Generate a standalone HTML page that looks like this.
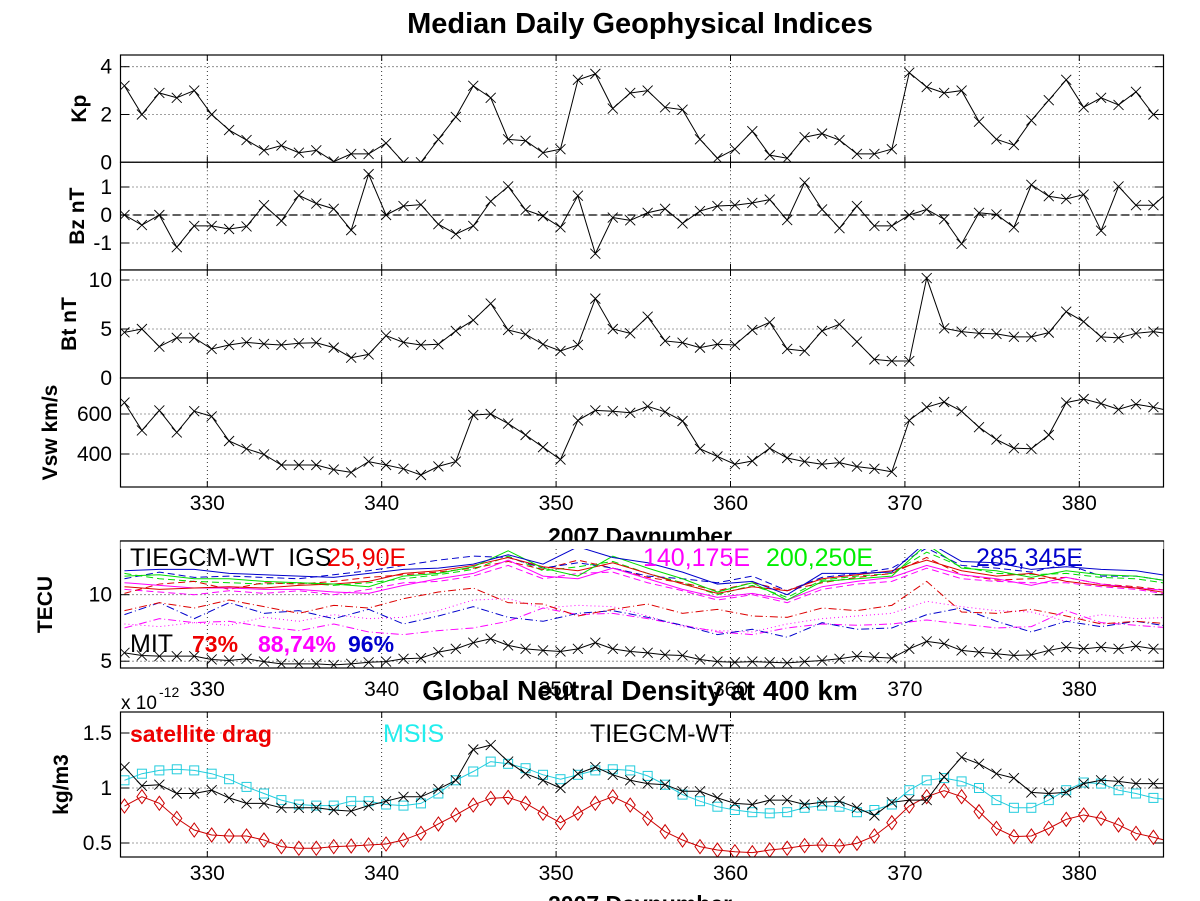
<!DOCTYPE html>
<html><head><meta charset="utf-8"><style>
html,body{margin:0;padding:0;background:#fff;}
svg{display:block;font-family:"Liberation Sans",Arial,sans-serif;}
</style></head><body>
<svg id="chart" width="1200" height="901" viewBox="0 0 1200 901" xmlns="http://www.w3.org/2000/svg">
<rect width="1200" height="901" fill="#fff"/>
</svg>
<script>
// ---- data ----
const kp = [3.2,2.0,2.9,2.7,3.0,2.0,1.35,0.93,0.5,0.7,0.4,0.5,0.03,0.35,0.35,0.8,0,0,0.96,1.9,3.2,2.7,0.96,0.9,0.4,0.55,3.45,3.7,2.25,2.9,3.0,2.3,2.2,0.96,0.17,0.55,1.3,0.3,0.17,1.05,1.2,0.93,0.35,0.35,0.55,3.75,3.15,2.9,3.0,1.7,0.96,0.72,1.75,2.6,3.45,2.3,2.7,2.4,2.95,2.0,2.0];
const bz = [0,-0.36,0,-1.15,-0.39,-0.39,-0.5,-0.41,0.35,-0.21,0.7,0.41,0.22,-0.54,1.46,0,0.32,0.37,-0.33,-0.68,-0.39,0.49,1.02,0.18,-0.04,-0.44,0.69,-1.38,-0.09,-0.19,0.08,0.22,-0.3,0.14,0.32,0.35,0.43,0.55,-0.18,1.16,0.2,-0.47,0.32,-0.39,-0.39,0,0.2,-0.15,-1.03,0.08,0.02,-0.44,1.08,0.67,0.57,0.73,-0.56,1.02,0.35,0.35,0.9];
const bt = [4.66,5.0,3.2,4.1,4.1,2.96,3.37,3.64,3.47,3.37,3.54,3.6,3.1,2.07,2.41,4.32,3.64,3.37,3.44,4.8,5.9,7.6,4.9,4.46,3.44,2.76,3.37,8.1,5.0,4.56,6.26,3.78,3.6,3.1,3.44,3.37,4.9,5.68,2.96,2.76,4.8,5.48,3.7,1.9,1.73,1.73,10.2,5.07,4.73,4.56,4.5,4.2,4.2,4.63,6.77,5.75,4.2,4.1,4.56,4.73,4.5];
const vsw = [657,518,618,508,614,588,465,426,398,345,345,345,322,308,362,345,326,295,338,362,595,600,552,495,434,372,568,618,614,606,638,611,565,426,388,349,365,429,380,362,349,357,337,326,311,568,634,660,614,534,472,429,426,495,657,675,652,623,649,634,614];
const mit = [5.63,5.43,5.38,5.38,5.38,5.13,5.05,5.18,4.97,4.8,4.8,4.8,4.72,4.8,4.92,4.97,5.18,5.23,5.68,5.93,6.39,6.69,6.19,5.93,5.81,5.73,5.93,6.39,5.93,5.73,5.63,5.48,5.43,5.13,4.97,4.92,4.97,4.92,4.87,4.97,5.05,5.18,5.38,5.3,5.23,5.93,6.49,6.31,5.81,5.68,5.56,5.43,5.48,5.81,6.06,5.93,6.06,5.93,6.14,5.93,5.9];
const tecBlueSolid = [11.8,11.9,11.9,11.6,11.5,11.4,11.3,11.6,11.9,12.0,12.3,13.0,12.3,13.6,12.8,12.4,11.7,10.8,11.0,10.0,11.6,11.6,11.7,14.0,12.5,12.4,11.9,12.1,11.9,11.8,11.4];
const tecGreenSolid = [11.4,11.5,11.2,11.2,11.0,10.9,10.8,10.6,11.4,11.6,12.1,13.3,12.0,11.4,12.9,12.0,11.2,10.2,10.9,9.6,11.0,11.2,11.4,13.8,12.0,11.8,11.3,11.8,11.5,11.4,11.0];
const tecRedSolid = [10.6,10.4,10.5,10.6,10.5,10.7,10.8,11.0,11.6,11.8,12.2,12.8,12.1,11.8,12.4,11.6,10.8,10.1,10.6,10.3,11.2,11.5,11.8,12.6,11.8,11.4,11.6,11.0,10.7,10.5,10.1];
const tecMagentaSolid = [10.9,10.7,10.5,10.5,10.4,10.4,10.2,10.1,10.7,11.2,11.6,12.6,11.4,11.2,12.0,11.2,10.4,9.8,10.1,9.6,10.6,11.0,11.3,12.2,11.5,11.2,10.7,11.3,10.8,10.5,10.3];
const tecBlueDash = [11.2,11.7,11.3,11.4,11.3,11.2,11.5,11.8,12.2,12.6,12.9,12.8,12.0,12.4,12.0,11.4,11.2,10.9,11.4,10.3,11.3,11.6,12.0,13.5,12.2,12.0,11.7,12.3,11.4,11.4,11.0];
const tecRedDash = [10.1,10.8,11.0,10.4,10.9,10.8,11.0,11.3,11.5,11.7,12.0,12.5,11.9,12.6,12.0,11.3,10.9,10.3,10.9,10.3,10.9,11.3,11.6,12.8,11.5,11.1,11.2,11.3,10.8,10.6,10.3];
const tecGreenDash = [11.6,11.2,11.0,10.9,10.8,10.9,10.7,10.9,11.2,11.5,11.9,12.9,11.8,12.1,12.5,11.6,10.9,10.0,10.7,9.8,11.1,11.4,11.6,13.2,12.1,11.6,11.5,11.6,11.3,11.2,10.8];
const tecMagentaDash = [10.4,10.2,10.0,10.3,10.1,10.3,10.0,10.4,10.9,11.0,11.4,12.2,11.2,11.6,11.7,10.9,10.3,9.6,10.0,9.4,10.4,10.8,11.0,12.0,11.2,11.0,10.9,10.9,10.6,10.4,10.0];
const tecRedDashDot = [8.8,9.4,9.0,9.6,9.1,8.6,9.2,9.0,9.7,10.2,10.5,9.4,9.3,8.4,8.9,9.3,8.6,8.9,8.4,8.3,9.0,8.8,9.2,11.0,8.7,8.6,8.9,8.4,7.8,8.0,7.8];
const tecBlueDashDot = [8.5,9.4,8.2,9.4,8.6,8.8,8.2,8.9,7.8,8.4,9.1,8.3,8.0,8.6,8.8,8.3,7.7,7.0,7.4,6.8,7.9,7.4,7.5,8.5,9.0,8.0,7.2,8.0,7.6,8.0,7.6];
const tecMagentaDashDot = [7.5,8.2,7.9,8.0,7.6,7.3,7.8,7.2,7.0,7.3,7.5,8.0,9.0,8.5,8.6,8.2,7.7,7.2,7.0,7.5,7.8,7.7,7.8,8.1,7.8,7.5,7.6,8.8,7.9,7.7,7.5];
const tecMagentaDot = [7.8,7.6,7.9,7.7,8.3,8.0,8.5,8.2,8.3,8.8,9.6,9.7,9.0,9.2,9.1,8.4,7.6,7.3,7.2,7.8,8.2,8.4,8.6,9.5,9.1,8.8,8.7,8.0,8.5,8.2,8.3];
const densTie = [1.19,1.02,1.03,0.95,0.95,0.98,0.91,0.86,0.86,0.82,0.82,0.82,0.8,0.79,0.84,0.88,0.92,0.92,0.99,1.07,1.35,1.39,1.24,1.13,1.07,1.0,1.13,1.19,1.12,1.07,1.04,1.03,0.97,0.97,0.91,0.86,0.85,0.89,0.89,0.85,0.87,0.88,0.82,0.75,0.87,0.89,0.89,1.1,1.28,1.22,1.13,1.09,0.96,0.95,0.96,1.04,1.07,1.06,1.04,1.04,1.04];
const densMsis = [1.07,1.13,1.16,1.17,1.16,1.13,1.08,1.01,0.95,0.89,0.85,0.84,0.84,0.88,0.88,0.85,0.84,0.86,0.95,1.07,1.15,1.24,1.22,1.18,1.12,1.08,1.12,1.16,1.17,1.16,1.11,1.03,0.94,0.88,0.83,0.8,0.78,0.77,0.78,0.82,0.84,0.83,0.78,0.8,0.85,0.98,1.07,1.09,1.06,1.0,0.89,0.82,0.82,0.89,0.98,1.05,1.04,0.98,0.95,0.91,0.89];
const densDrag = [0.836,0.921,0.861,0.724,0.618,0.573,0.564,0.564,0.527,0.467,0.452,0.452,0.467,0.473,0.482,0.491,0.527,0.588,0.673,0.755,0.845,0.906,0.915,0.861,0.77,0.685,0.77,0.861,0.921,0.845,0.724,0.603,0.527,0.467,0.436,0.421,0.412,0.436,0.452,0.476,0.482,0.473,0.497,0.564,0.685,0.836,0.921,0.976,0.921,0.785,0.633,0.558,0.564,0.633,0.715,0.755,0.724,0.664,0.588,0.552,0.512];
const xTicks = [330,340,350,360,370,380];
const DAY0 = 325.25;

// ---- helpers ----
const svg = document.getElementById('chart');
const NS = 'http://www.w3.org/2000/svg';
function X(d){ return 207.3 + (d-330)*17.44; }
const XL = 120.5, XR = 1163.5;
function mk(tag, attrs, parent){ const e=document.createElementNS(NS,tag); for(const k in attrs) e.setAttribute(k,attrs[k]); (parent||svg).appendChild(e); return e; }
function txt(s, x, y, size, opts){ const t=mk('text',Object.assign({x:x,y:y,'font-size':size},opts||{})); t.textContent=s; return t; }

const panels = [
 {name:'kp', top:55, bot:162.3, Y:v=>162.3-v*23.9, ticks:[0,2,4], lbl:'Kp', lx:86},
 {name:'bz', top:162.3, bot:270, Y:v=>215-v*28, ticks:[-1,0,1], lbl:'Bz nT', lx:84},
 {name:'bt', top:270, bot:378, Y:v=>378-v*9.8, ticks:[0,5,10], lbl:'Bt nT', lx:76},
 {name:'vsw', top:378, bot:487, Y:v=>454-(v-400)*0.2, ticks:[400,600], lbl:'Vsw km/s', lx:57},
 {name:'tec', top:541, bot:668, Y:v=>594.7-(v-10)*13.3, ticks:[5,10], lbl:'TECU', lx:52},
 {name:'dens', top:712, bot:857, Y:v=>788-(v-1)*110, ticks:[0.5,1,1.5], lbl:'kg/m3', lx:68}
];

// title
let e = txt('Median Daily Geophysical Indices', 640, 33, 29, {'text-anchor':'middle', fill:'#000','font-weight':'bold'});



panels.forEach(p=>{
  const g = mk('g',{});
  
  
  mk('rect',{x:XL,y:p.top,width:XR-XL,height:p.bot-p.top,fill:'#fff',stroke:'none'},g);
  const cp = mk('clipPath',{id:'cp-'+p.name},g);
  mk('rect',{x:XL,y:p.top,width:XR-XL,height:p.bot-p.top},cp);
  xTicks.forEach(d=>{
    const l = mk('line',{x1:X(d),x2:X(d),y1:p.top,y2:p.bot,stroke:'#000','stroke-width':0.8,'stroke-dasharray':'1,3'},g);
    
    
    mk('line',{x1:X(d),x2:X(d),y1:p.bot,y2:p.bot-6,stroke:'#000'},g);
    mk('line',{x1:X(d),x2:X(d),y1:p.top,y2:p.top+6,stroke:'#000'},g);
  });
  p.ticks.forEach(v=>{
    const y=p.Y(v);
    const l = mk('line',{x1:XL,x2:XR,y1:y,y2:y,stroke:'#000','stroke-width':0.8,'stroke-dasharray':'1,3'},g);
    
    
    mk('line',{x1:XL,x2:XL+9,y1:y,y2:y,stroke:'#000'},g);
    mk('line',{x1:XR,x2:XR-9,y1:y,y2:y,stroke:'#000'},g);
    const t = txt(String(v), 112, y+7, 21, {'text-anchor':'end'});
    
    
  });
  const yl = txt(p.lbl, 0, 0, 21, {'text-anchor':'middle','font-weight':'bold',transform:`translate(${p.lx},${(p.top+p.bot)/2}) rotate(-90)`});
  
  
  p.g = g;
  p.plot = mk('g',{'clip-path':`url(#cp-${p.name})`},g);
});

function series(p, arr, color, opts){
  opts = opts||{};
  const step = opts.step||1;
  const pts = arr.map((v,i)=>[X(DAY0+i*step), p.Y(v)]);
  const pl = mk('polyline',{points:pts.map(q=>q.join(',')).join(' '),fill:'none',stroke:color,'stroke-width':opts.w||1,'stroke-dasharray':opts.dash||'none'},p.plot);
  
  
  if(opts.marker){
    pts.forEach(q=>{
      const [x,y]=q; let m;
      if(opts.marker==='x'){ m=mk('path',{d:`M${x-5},${y-5}L${x+5},${y+5}M${x-5},${y+5}L${x+5},${y-5}`,stroke:color,'stroke-width':0.9,fill:'none'},p.plot); }
      else if(opts.marker==='s'){ m=mk('rect',{x:x-4.5,y:y-4.5,width:9,height:9,stroke:color,'stroke-width':1,fill:'none'},p.plot); }
      else { m=mk('path',{d:`M${x},${y-7}L${x+5},${y}L${x},${y+7}L${x-5},${y}Z`,stroke:color,'stroke-width':1,fill:'none'},p.plot); }
      
      
    });
  }
}
const [pKp,pBz,pBt,pVsw,pTec,pDen] = panels;
const zl = mk('line',{x1:XL,x2:XR,y1:pBz.Y(0),y2:pBz.Y(0),stroke:'#000','stroke-width':1.2,'stroke-dasharray':'8,5'},pBz.plot);


series(pKp,kp,'#000',{marker:'x',name:'kp-line'});
series(pBz,bz,'#000',{marker:'x',name:'bz-line'});
series(pBt,bt,'#000',{marker:'x',name:'bt-line'});
series(pVsw,vsw,'#000',{marker:'x',name:'vsw-line'});

// TEC
series(pTec,tecMagentaDot,'#f0f',{step:2,dash:'1,3',name:'tec-magenta-dotted'});
series(pTec,tecMagentaDashDot,'#f0f',{step:2,dash:'8,3,1,3',name:'tec-magenta-dashdot'});
series(pTec,tecBlueDashDot,'#00c',{step:2,dash:'8,3,1,3',name:'tec-blue-dashdot'});
series(pTec,tecRedDashDot,'#d00',{step:2,dash:'8,3,1,3',name:'tec-red-dashdot'});
series(pTec,tecMagentaDash,'#f0f',{step:2,dash:'7,4',name:'tec-magenta-dashed'});
series(pTec,tecGreenDash,'#0d0',{step:2,dash:'7,4',name:'tec-green-dashed'});
series(pTec,tecRedDash,'#d00',{step:2,dash:'7,4',name:'tec-red-dashed'});
series(pTec,tecBlueDash,'#00c',{step:2,dash:'7,4',name:'tec-blue-dashed'});
series(pTec,tecMagentaSolid,'#f0f',{step:2,name:'tec-magenta-solid'});
series(pTec,tecRedSolid,'#d00',{step:2,name:'tec-red-solid'});
series(pTec,tecGreenSolid,'#0d0',{step:2,name:'tec-green-solid'});
series(pTec,tecBlueSolid,'#00c',{step:2,name:'tec-blue-solid'});
series(pTec,mit,'#000',{marker:'x',name:'tec-mit-line'});

// density
series(pDen,densDrag,'#c00',{marker:'d',name:'density-satellite-drag'});
series(pDen,densMsis,'#2cd',{marker:'s',name:'density-msis'});
series(pDen,densTie,'#000',{marker:'x',name:'density-tiegcm'});

// frames
panels.forEach(p=>{
  const r = mk('rect',{x:XL,y:p.top,width:XR-XL,height:p.bot-p.top,fill:'none',stroke:'#000','stroke-width':1.2},p.g);
  
  
});

// x tick labels
[[510,'top-x'],[696,'tec-x'],[880,'dens-x']].forEach(([y,n])=>{
  xTicks.forEach(d=>{
    const t = txt(String(d), X(d), y, 21, {'text-anchor':'middle'});
    
    
  });
});
e = txt('2007 Daynumber', 640, 544, 23, {'text-anchor':'middle','font-weight':'bold'});


const cover = mk('rect',{x:XL,y:541,width:XR-XL,height:8,fill:'#fff'});


mk('line',{x1:XL,x2:XR,y1:541,y2:541,stroke:'#000','stroke-width':1.2});
e = txt('Global Neutral Density at 400 km', 640, 700, 28, {'text-anchor':'middle','font-weight':'bold'});


e = txt('2007 Daynumber', 640, 912, 23, {'text-anchor':'middle','font-weight':'bold'});


e = txt('x 10', 121, 709, 19, {});


e = txt('-12', 159, 697, 14, {});



// legend texts
const leg = [
 ['TIEGCM-WT\u00a0\u00a0IGS',130,566,'#000','normal','tec-legend-model'],
 ['25,90E',327,566,'#e00','normal','tec-legend-25-90e'],
 ['140,175E',643,566,'#f0f','normal','tec-legend-140-175e'],
 ['200,250E',766,566,'#0e0','normal','tec-legend-200-250e'],
 ['285,345E',976,566,'#00c','normal','tec-legend-285-345e'],
 ['MIT',130,652,'#000','normal','tec-legend-mit'],
 ['73%',192,652,'#e00','bold','tec-legend-73'],
 ['88,74%',258,652,'#f0f','bold','tec-legend-88-74'],
 ['96%',348,652,'#00c','bold','tec-legend-96'],
 ['satellite drag',130,742,'#e00','bold','density-legend-drag'],
 ['MSIS',383,742,'#2ee','normal','density-legend-msis'],
 ['TIEGCM-WT',590,742,'#000','normal','density-legend-tiegcm']
];
leg.forEach(([s,x,y,c,w,n])=>{
  const t = txt(s,x,y,w==='bold'?23:25,{fill:c,'font-weight':w});
  
  
});
</script>
</body></html>
